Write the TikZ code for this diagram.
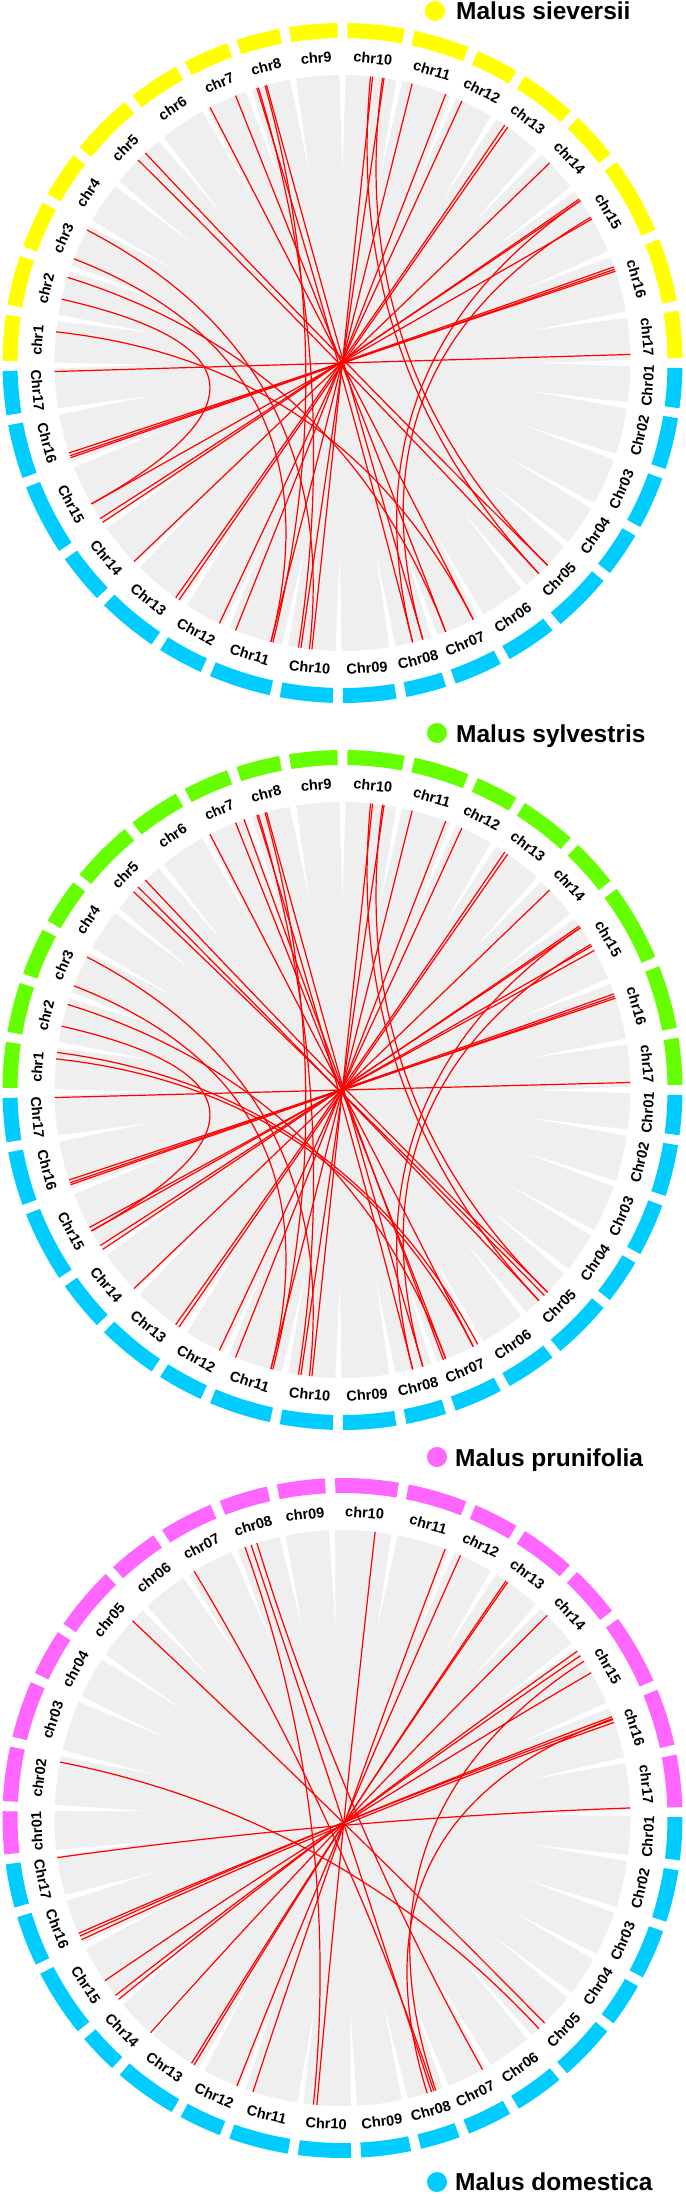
\documentclass[tikz,border=0pt]{standalone}
\usepackage{fontspec}
\setmainfont{Liberation Sans}
\usetikzlibrary{positioning}

\definecolor{sievyellow}{HTML}{FFFF00}
\definecolor{sylvgreen}{HTML}{66FF00}
\definecolor{prunpink}{HTML}{FF66FF}
\definecolor{domblue}{HTML}{00CCFF}
\definecolor{ribbongray}{HTML}{EFEFEF}
\definecolor{linkred}{HTML}{FF0000}

% one synteny link: quadratic bezier through the centre
\newcommand{\chord}[2]{\draw[synteny] (#1:288) .. controls (#1:96) and (#2:96) .. (#2:288);}

% karyotype ring: #1 colour, #2 list lo/hi/label, #3 label turn
\newcommand{\karyo}[3]{%
  \foreach \lo/\hi/\l in #2 {
    \pgfmathsetmacro{\m}{(\lo+\hi)/2}
    \fill[#1] (\lo+0.85:325) arc[start angle=\lo+0.85, end angle=\hi-0.85, radius=325]
      -- (\hi-0.85:340) arc[start angle=\hi-0.85, end angle=\lo+0.85, radius=340] -- cycle;
    \node[chrlab, rotate=\m#3] at (\m:306) {\l};
  }}

% white gaps between the grey ribbons
\newcommand{\gaps}[1]{%
  \foreach \lo/\hi/\l in #1 {
    \fill[white] (\lo-0.6:290) -- (\lo+0.6:290) -- (\lo:195) -- cycle;
    \fill[white] (\hi-0.6:290) -- (\hi+0.6:290) -- (\hi:195) -- cycle;
  }}

\def\topA{0/9.7/chr17, 9.7/22.2/chr16, 22.2/37.1/chr15, 37.1/47/chr14, 47/58.4/chr13,
  58.4/67.4/chr12, 67.4/78.6/chr11, 78.6/90/chr10, 90/99.9/chr9, 99.9/109/chr8,
  109/118.5/chr7, 118.5/129/chr6, 129/141.5/chr5, 141.5/151/chr4, 151/160.8/chr3,
  160.8/171/chr2, 171/180.5/chr1}
\def\botA{-8.5/0/Chr01, -19/-8.5/Chr02, -29.7/-19/Chr03, -39/-29.7/Chr04, -51/-39/Chr05,
  -61.4/-51/Chr06, -71.4/-61.4/Chr07, -80/-71.4/Chr08, -90.8/-80/Chr09, -101.5/-90.8/Chr10,
  -113.8/-101.5/Chr11, -123.3/-113.8/Chr12, -135.4/-123.3/Chr13, -145.6/-135.4/Chr14,
  -159.4/-145.6/Chr15, -170.3/-159.4/Chr16, -179.5/-170.3/Chr17}
\def\topC{1/11.6/chr17, 11.6/23/chr16, 23/36.7/chr15, 36.7/47.2/chr14, 47.2/58.4/chr13,
  58.4/67.8/chr12, 67.8/79.6/chr11, 79.6/92.1/chr10, 92.1/102/chr09, 102/112/chr08,
  112/122.9/chr07, 122.9/133.3/chr06, 133.3/146/chr05, 146/155.6/chr04, 155.6/167/chr03,
  167/178/chr02, 178/187/chr01}
\def\botC{-8/1/Chr01, -18.6/-8/Chr02, -28.8/-18.6/Chr03, -38/-28.8/Chr04, -49.5/-38/Chr05,
  -59.6/-49.5/Chr06, -69/-59.6/Chr07, -77.5/-69/Chr08, -87.7/-77.5/Chr09, -98.4/-87.7/Chr10,
  -110.3/-98.4/Chr11, -119.3/-110.3/Chr12, -131.8/-119.3/Chr13, -140.3/-131.8/Chr14,
  -153.6/-140.3/Chr15, -163.9/-153.6/Chr16, -173/-163.9/Chr17}

% links, top angle / bottom angle
\def\linksA{1.7/-178.3, 19.5/-161.2, 19.0/-160.8, 18.6/-161.8, 30/-150.7, 34.7/-146.4,
  34.3/-147.3, 34.3/-75.9, 30.4/-73.8, 44/-136.4, 55.7/-125.4, 55/-124.6, 65.5/-115.3,
  69/-111.8, 76/-104.4, 84/-96.1, 81.7/-98.3, 84.4/-47, 82/-44.6, 107.3/-75.9,
  105.3/-73.8, 107/-98.8, 105.6/-104, 111.8/-69, 117.4/-63, 135.2/-47, 133.2/-44.6,
  173.8/-63, 167.2/-150.7, 162.7/-69, 158.8/-104.4, 152.5/-96.6}
\def\linksB{1.5/-178.5, 19.5/-161.2, 19.0/-160.8, 18.6/-161.8, 30/-150.7, 29/-151.5,
  34.7/-146.4, 34.3/-147.3, 34.3/-75.9, 30.4/-73.8, 44/-136.4, 55.7/-125.4, 55/-124.6,
  65.5/-115.3, 69/-111.8, 76/-104.4, 84/-96.1, 81.7/-98.3, 84.4/-47, 82/-44.6,
  107.3/-75.9, 105.3/-73.8, 107/-98.8, 105.6/-104, 111.8/-69, 110/-69.5, 117.4/-63,
  135.2/-47, 133.2/-44.6, 136.5/-45.5, 173.8/-63, 172.5/-62, 167.2/-150.7, 162.7/-69,
  158.8/-104.4, 152.5/-96.6}
\def\linksC{2/-172.1, 20.6/-155.8, 19.4/-155, 20/-156.4, 30.3/-145.6, 34.3/-142,
  35.4/-141, 20.2/-72.9, 33/-71.1, 44.7/-131.8, 55/-121.6, 55.4/-121, 65.8/-111.5,
  69.1/-108.1, 83.5/-95.1, 109.8/-95.8, 107.3/-60.9, 108.5/-72, 121/-71.5,
  136.8/-45.4, 168.8/-47}

\begin{document}
\begin{tikzpicture}[x=1pt, y=1pt,
    chrlab/.style={font=\bfseries\fontsize{14.5}{15}\selectfont, inner sep=0pt},
    legend/.style={font=\bfseries\fontsize{24.5}{26}\selectfont, inner sep=0pt, anchor=base west},
    synteny/.style={linkred, line width=1.2pt}]
    \useasboundingbox (0,0) rectangle (685,-2194);

    % Malus sieversii vs Malus domestica
    \begin{scope}[shift={(342.5,-363)}]
        \fill[ribbongray] (0,0) circle (288);
        \gaps{\topA} \gaps{\botA}
        \foreach \p/\q in \linksA {\chord{\p}{\q}}
        \karyo{sievyellow}{\topA}{-90}
        \karyo{domblue}{\botA}{+90}
    \end{scope}

    % Malus sylvestris vs Malus domestica
    \begin{scope}[shift={(342.5,-1090)}]
        \fill[ribbongray] (0,0) circle (288);
        \gaps{\topA} \gaps{\botA}
        \foreach \p/\q in \linksB {\chord{\p}{\q}}
        \karyo{sylvgreen}{\topA}{-90}
        \karyo{domblue}{\botA}{+90}
    \end{scope}

    % Malus prunifolia vs Malus domestica
    \begin{scope}[shift={(342.5,-1818)}]
        \fill[ribbongray] (0,0) circle (288);
        \gaps{\topC} \gaps{\botC}
        \foreach \p/\q in \linksC {\chord{\p}{\q}}
        \karyo{prunpink}{\topC}{-90}
        \karyo{domblue}{\botC}{+90}
    \end{scope}

    % legend entries
    \fill[sievyellow] (435,-11) circle (10);
    \node[legend] (sievers) at (456,-20) {Malus sieversii};
    \fill[sylvgreen] (437,-733) circle (10);
    \node[legend] (sylvest) at (456,-742) {Malus sylvestris};
    \fill[prunpink] (437,-1457) circle (10);
    \node[legend] (prunif) at (455,-1466) {Malus prunifolia};
    \fill[domblue] (437,-2182) circle (10);
    \node[legend] (domest) at (455,-2190.5) {Malus domestica};
\end{tikzpicture}
\end{document}
